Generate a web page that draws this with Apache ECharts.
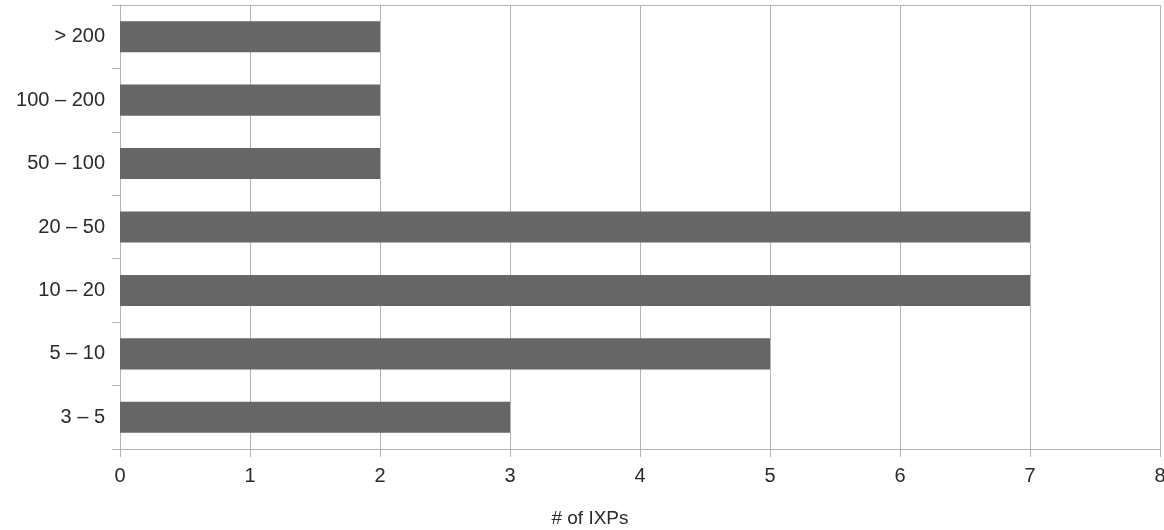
<!DOCTYPE html>
<html>
<head>
<meta charset="utf-8">
<script src="https://cdn.jsdelivr.net/npm/echarts@6/dist/echarts.min.js"></script>
<style>
html,body{margin:0;padding:0;background:#fff;overflow:hidden;}
#c{width:1164px;height:530px;}
</style>
</head>
<body>
<div id="c"></div>
<script>
const categories = ["3 – 5", "5 – 10", "10 – 20", "20 – 50", "50 – 100", "100 – 200", "> 200"];
const values = [3, 5, 7, 7, 2, 2, 2];
const xTicks = [0, 1, 2, 3, 4, 5, 6, 7, 8];
const xTitle = "# of IXPs";

const chart = echarts.init(document.getElementById('c'), null, {renderer: 'canvas'});
const gridColor = '#b3b3b3';
const font = 'Liberation Sans, Arial, sans-serif';
chart.setOption({
  animation: false,
  grid: {left: 120, right: 4, top: 5, bottom: 81, containLabel: false, outerBoundsMode: 'none'},
  xAxis: [{
    type: 'value',
    min: xTicks[0], max: xTicks[xTicks.length - 1], interval: 1,
    name: xTitle, nameLocation: 'middle', nameGap: 60,
    nameTextStyle: {fontFamily: font, fontSize: 19, color: '#2a2a2a', padding: [0, 100, 0, 0]},
    axisLine: {show: true, lineStyle: {color: gridColor, width: 1}},
    axisTick: {show: true, length: 8, lineStyle: {color: gridColor}},
    axisLabel: {fontFamily: font, fontSize: 20, color: '#2a2a2a', margin: 17},
    splitLine: {show: true, lineStyle: {color: gridColor, width: 1}}
  }, {
    type: 'value', position: 'top',
    min: xTicks[0], max: xTicks[xTicks.length - 1], interval: 1,
    axisLine: {show: true, lineStyle: {color: gridColor, width: 1}},
    axisTick: {show: false}, axisLabel: {show: false}, splitLine: {show: false}
  }],
  yAxis: {
    type: 'category', data: categories,
    axisLine: {show: true, lineStyle: {color: gridColor}},
    axisTick: {show: true, length: 8, lineStyle: {color: gridColor}},
    axisLabel: {fontFamily: font, fontSize: 20, color: '#2a2a2a', margin: 15},
    splitLine: {show: false}
  },
  series: [{
    type: 'bar', data: values, xAxisIndex: 0,
    barWidth: '49%',
    itemStyle: {color: '#666666'}
  }]
});
</script>
</body>
</html>
